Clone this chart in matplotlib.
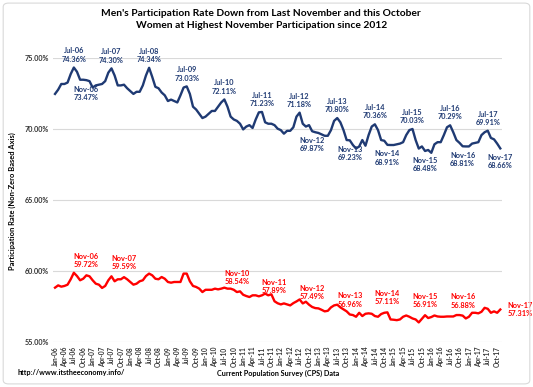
import matplotlib
matplotlib.use("Agg")
import matplotlib.pyplot as plt
from matplotlib.patches import FancyBboxPatch

# monthly series, Jan-06 .. Nov-17
men = [
    72.5, 72.8, 73.2, 73.2, 73.3, 73.9, 74.36, 74.06, 73.5, 73.5, 73.47, 73.4,
    72.95, 73.1, 73.15, 73.2, 73.4, 74.0, 74.30, 73.8, 73.1, 73.1, 73.15, 72.9,
    72.7, 72.5, 72.65, 72.65, 73.1, 73.8, 74.34, 73.7, 73.0, 72.9, 72.6, 72.4,
    72.0, 72.1, 72.0, 71.9, 72.4, 72.95, 73.03, 72.5, 71.6, 71.4, 71.1, 70.8,
    70.9, 71.1, 71.3, 71.3, 71.6, 71.9, 72.11, 71.6, 70.9, 70.7, 70.6, 70.4,
    70.0, 70.2, 70.3, 70.1, 70.7, 71.2, 71.23, 70.5, 70.4, 70.4, 70.3, 70.05,
    69.95, 69.7, 69.9, 69.9, 70.15, 70.9, 71.18, 70.4, 70.2, 70.3, 69.87, 69.8,
    69.75, 69.65, 69.55, 69.55, 69.95, 70.6, 70.80, 70.5, 69.95, 69.25, 69.23, 68.9,
    68.65, 68.8, 69.25, 68.85, 69.6, 70.2, 70.36, 69.95, 69.25, 69.2, 68.91, 68.9,
    68.9, 68.95, 69.0, 69.1, 69.6, 69.95, 70.03, 69.25, 68.65, 68.8, 68.48, 68.55,
    68.35, 68.95, 69.1, 69.1, 69.6, 70.15, 70.29, 69.8, 69.25, 69.05, 68.81, 68.8,
    68.8, 69.0, 69.05, 69.1, 69.6, 69.8, 69.91, 69.4, 69.3, 69.0, 68.66,
]
women = [
    58.85, 59.01, 58.92, 58.97, 59.06, 59.44, 59.9, 59.67, 59.37, 59.48, 59.72, 59.65,
    59.37, 59.13, 59.06, 58.83, 58.97, 59.37, 59.65, 59.3, 59.44, 59.44, 59.59, 59.44,
    59.25, 59.06, 59.13, 59.3, 59.37, 59.67, 59.84, 59.72, 59.48, 59.44, 59.6, 59.48,
    59.25, 59.2, 59.25, 59.25, 59.25, 59.84, 59.84, 59.3, 58.97, 58.9, 58.78, 58.54,
    58.7, 58.7, 58.7, 58.78, 58.73, 58.78, 58.85, 58.78, 58.78, 58.7, 58.54, 58.59,
    58.35, 58.26, 58.19, 58.31, 58.31, 58.24, 58.31, 58.43, 58.31, 58.38, 57.89, 57.75,
    57.67, 57.74, 57.67, 57.6, 57.76, 57.88, 58.02, 57.74, 57.86, 57.65, 57.49, 57.41,
    57.39, 57.29, 57.18, 57.22, 57.46, 57.6, 57.65, 57.46, 57.32, 57.18, 56.96, 56.92,
    56.8, 57.08, 56.85, 57.01, 57.04, 57.01, 56.85, 56.8, 56.99, 57.08, 57.11, 56.61,
    56.59, 56.56, 56.61, 56.8, 56.89, 56.8, 56.68, 56.61, 56.4, 56.66, 56.91, 56.71,
    56.78, 56.89, 56.82, 56.8, 56.8, 56.82, 56.82, 56.82, 56.92, 56.92, 56.88, 56.68,
    56.8, 57.08, 57.08, 57.04, 57.15, 57.43, 57.36, 57.08, 57.18, 57.08, 57.31,
]

month_names = ["Jan", "Feb", "Mar", "Apr", "May", "Jun",
               "Jul", "Aug", "Sep", "Oct", "Nov", "Dec"]
years = ["06", "07", "08", "09", "10", "11", "12", "13", "14", "15", "16", "17"]
months = [f"{m}-{y}" for y in years for m in month_names][:len(men)]

men_above = ["Jul-06", "Jul-07", "Jul-08", "Jul-09", "Jul-10", "Jul-11", "Jul-12",
             "Jul-13", "Jul-14", "Jul-15", "Jul-16", "Jul-17"]
men_below = ["Nov-06", "Nov-12", "Nov-13", "Nov-14", "Nov-15", "Nov-16", "Nov-17"]
women_above = ["Nov-06", "Nov-07", "Nov-10", "Nov-11", "Nov-12", "Nov-13",
               "Nov-14", "Nov-15", "Nov-16"]
women_right = ["Nov-17"]

NAVY = "#1F3A73"
RED = "#FF0000"
plt.rcParams['font.family'] = ["Lato", "DejaVu Sans"]

fig = plt.figure(figsize=(5.33, 3.87), dpi=100)
ax = fig.add_axes([0.100, 0.1155, 0.841, 0.7335])

x = list(range(len(men)))
ax.plot(x, men, color=NAVY, lw=1.7, solid_joinstyle='round')
ax.plot(x, women, color=RED, lw=1.7, solid_joinstyle='round')

ax.set_ylim(55, 75)
ax.set_xlim(-0.55, 142.4)
ax.set_yticks([55, 60, 65, 70, 75])
ax.set_yticklabels([f"{v:.2f}%" for v in [55, 60, 65, 70, 75]],
                   fontsize=5.2, fontweight='bold', color='#333333')
ax.set_xticks(x[::3])
ax.set_xticklabels(months[::3], rotation=90, fontsize=4.7, fontweight='bold',
                   color='#333333')
ax.tick_params(length=0, pad=3)
ax.grid(axis='y', color='#D9D9D9', lw=0.8)
ax.set_axisbelow(True)
for s in ax.spines.values():
    s.set_visible(False)


def label(series, m, color, dx, dy, ha, va):
    i = months.index(m)
    ax.annotate(f"{m}\n{series[i]:.2f}%", (i, series[i]), xytext=(dx, dy),
                textcoords='offset points', ha=ha, va=va, fontsize=5.3,
                fontweight='bold', color=color, linespacing=1.2)


for m in men_above:
    label(men, m, NAVY, 0, 3.5, 'center', 'bottom')
for m in men_below:
    label(men, m, NAVY, 0, -4, 'center', 'top')
for m in women_above:
    label(women, m, RED, 0, 5, 'center', 'bottom')
for m in women_right:
    label(women, m, RED, 5, 0, 'left', 'center')

fig.text(0.49, 0.964, "Men's Participation Rate Down from Last November and this October",
         ha='center', va='center', fontsize=7.4, fontweight='bold')
fig.text(0.49, 0.933, "Women at Highest November Participation since 2012",
         ha='center', va='center', fontsize=7.4, fontweight='bold')
fig.text(0.023, 0.48, "Participation Rate (Non-Zero Based Axis)", rotation=90,
         ha='center', va='center', fontsize=5.4, fontweight='bold')
fig.text(0.032, 1 - 373 / 387, "http://www.itstheeconomy.info/",
         ha='left', va='center', fontsize=5.2, fontweight='bold')
fig.text(278 / 533, 1 - 373 / 387, "Current Population Survey (CPS) Data",
         ha='center', va='center', fontsize=5.2, fontweight='bold')

fig.patches.append(FancyBboxPatch((0.006, 0.008), 0.988, 0.984,
                                  boxstyle="round,pad=0,rounding_size=0.01",
                                  transform=fig.transFigure, fill=False,
                                  ec='#D9D9D9', lw=0.8))

fig.savefig("out.png", dpi=100)
